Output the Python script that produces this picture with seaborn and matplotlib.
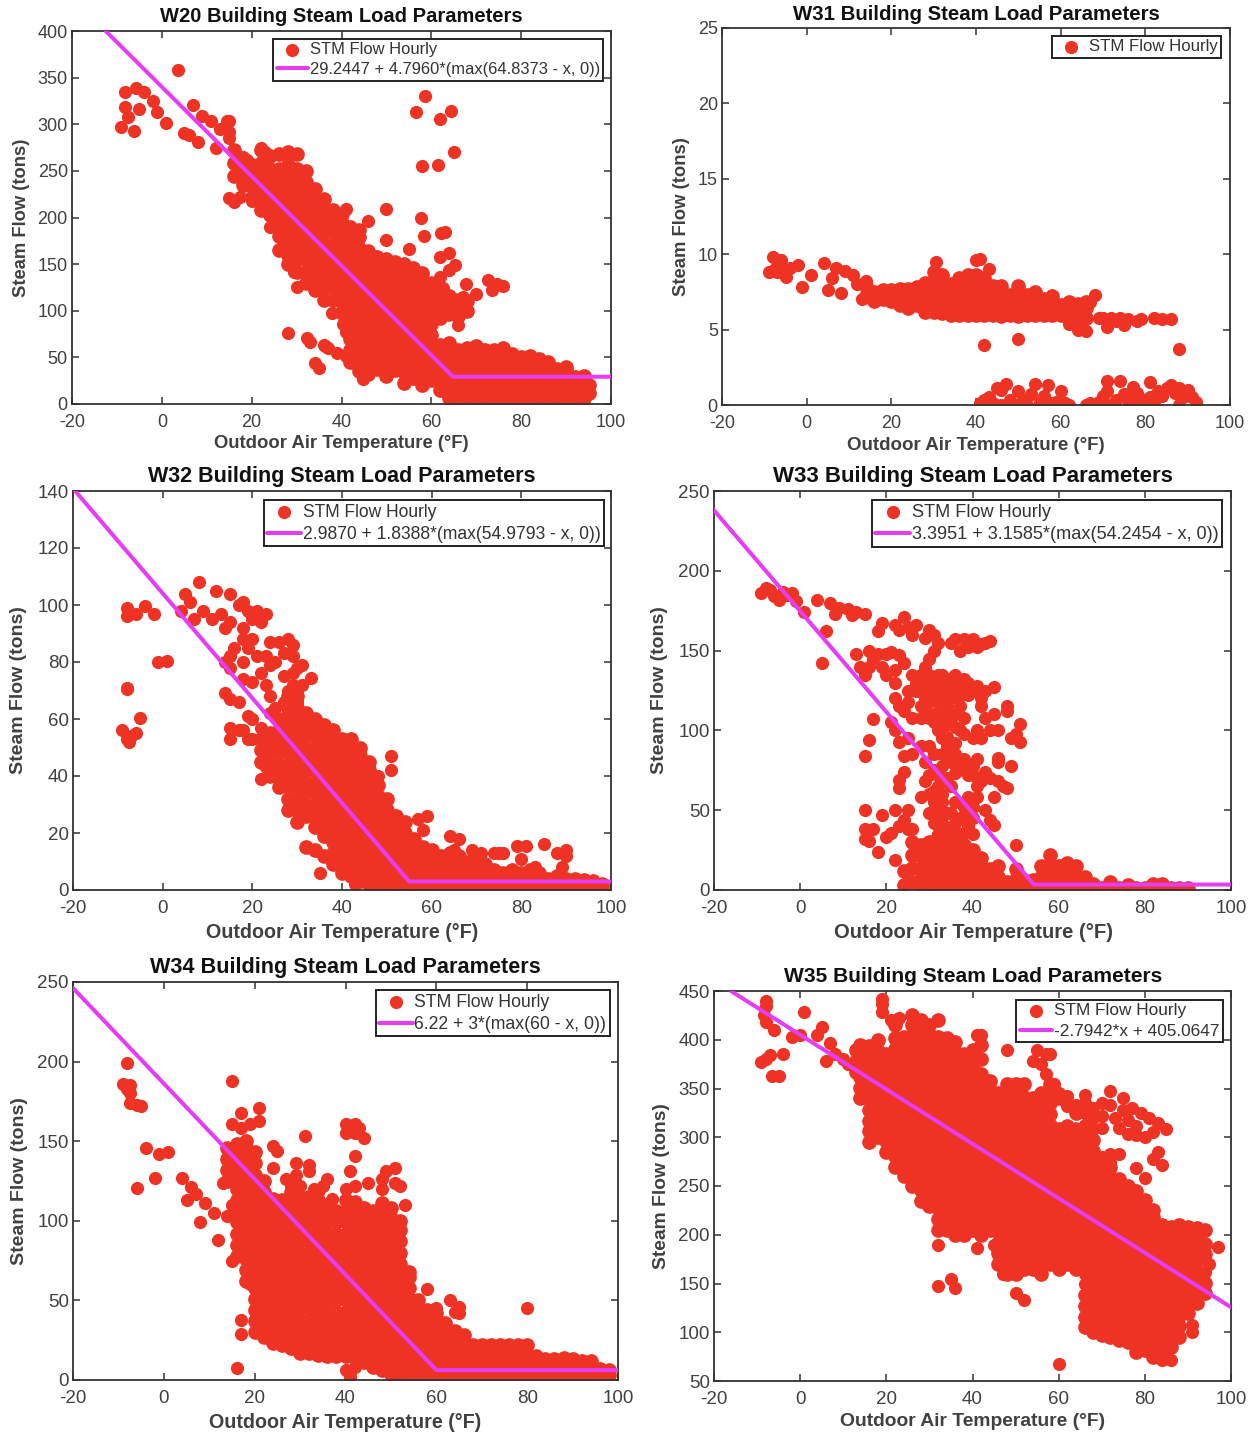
import pandas as pd
import matplotlib
matplotlib.use('Agg')
import matplotlib.pyplot as plt
import seaborn as sns

RED = '#EE3224'
MAGENTA = '#E63CF5'
GREY = '#404040'

# --- single readings: (temperature, flow) ---
w20_pts = [(-9,297),(-8.2,335),(-5.7,339),(-4,335),(-8.3,318),(-7.5,308),(-5,316),(-6.3,293),(-2,325),(-1,313),(1,301),(3.7,358),
           (5,291),(6,289),(7,321),(8,281),(9,309),(11,304),(12,274),(13,295),(14.4,304),(15,303),(15,292),(15,285),
           (58.5,330),(56.6,313),(61.9,306),(64.3,314),(65,270),(58,255),(61.4,256),(50,209),(46,196),(50,176),(55,166),
           (57.7,199),(58.3,180),(62.2,183),(63,184),(64,162),(62,158),(65.3,149),(64,144),(62,136),(62.7,124),(67.8,129),
           (72.7,133),(70,118),(74.7,129),(76,127),(73.4,122),(67,115),(68,101),(66,85),(64.7,97),(28,76),(32.3,71),(33,67),
           (34,44),(35,39),(36.3,62),(44.8,27),(37.8,98),(40,101),(40.3,86),(41,77),(30,126),(29.4,142),(24,190),(20,218),
           (15,221),(16,217),(17.3,222),(41,209),(37,60),(39,55),(41,52),(36,63),(18,265),(19,262),(22,274),(23,270)]
w31_pts = [(-9,8.8),(-8,9.8),(-7.5,9),(-7,8.8),(-6,9.6),(-6,9),(-5,8.5),(-4,9.1),(-2,9.3),(-1,7.8),(1,8.6),(4,9.4),(5,7.6),(6,8.4),(7,9.1),
           (8,7.4),(9,8.9),(11,8.6),(12,8),(14,8.2),(13,7),(30.5,9.5),(40,9.6),(41,9.7),(43,9),(42,4),(50,4.4),(88,3.7),(68,7.3),(67,6.8),
           (69,5.8),(70,5.8),(71,5.2),(72,5.8),(73,5.6),(74,5.8),(75,5.3),(76,5.7),(78,5.6),(79,5.7),(82,5.8),(84,5.7),(86,5.7),(64,5),(66,4.9),(62,5.4),
           (41,0.1),(42,0.3),(43,0.5),(44,0.1),(45,1.1),(46,0),(46,1),(47,1.4),(48,0.3),(49,0),(50,0.9),(51,0.3),(52,0),(53,0.7),(54,1.4),(55,0.2),
           (56,0.6),(57,1.3),(58,0.1),(59,0.2),(60,0.9),(61,0.1),(62,0),(66,0),(67,0.1),(69,0.2),(70,0.6),(71,1.6),(71,0.9),(72,0),(73,0.3),
           (74,1.6),(75,0.7),(76,0.3),(77,1.2),(78,0),(78,0.8),(79,0.4),(80,0),(81,1.5),(81,0.5),(82,0.2),(83,0.9),(84,0.6),(85,1.1),(86,1.3),
           (87,0.8),(88,0),(88,1.1),(89,0.5),(90,1),(91,0.5),(92,0.2)]
w32_pts = [(-9,56),(-8,53),(-7.5,52),(-7,54),(-6,55),(-5,60.5),(-8,71),(-8,70.5),(-1,80),(1,80.5),(-8,99),(-8,96),(-7.5,97),(-6,97),(-4,99.5),(-2,97),
           (4,98),(5,104),(6,101),(7,95),(8,108),(9,98),(11,95),(12,105),(13,97),(14,92),(15,104),(15,94),(17,100),(18,101),(19,98),(20,95),(21,98),(22,94),
           (23,97),(18,92),(20,88),(19,85),(18,88),(16,85),(15,82),(14,80),(15,78),(18,80),(18,74),(20,73),(22,76),(23,72),(21,82),(23,82),(25,80),(24,79),
           (26,87),(24,87),(28,88),(29,86),(27,83),(29,82),(30,78),(31,79),(33,74.5),(27,75),(29,76),(14,69),(15,67),(17,66),(19,61),(20,60),(15,57),(15,53),
           (17,56),(18,56),(19,53),(20,53),(22,57),(22,39),(23,43),(35,6),(43,2),(51,47),(51,42),(48,40),(57,25),(59,26),(58,21),(64,19),(66,18),(65,14),
           (69,14),(71,13),(70,11),(74,13),(75,13),(76,13),(79,15.5),(81,15.5),(80,11),(85,16),(88,13),(90,14),(90,12),(89,8),(83,8),(24,68),(25,64),(26,60),(24,62),
           (28,70),(29,72),(30,66),(31,72),(27,66),(28,62),(30,60)]
w33_pts = [(-9,186),(-8,189),(-7,188),(-6,184),(-5,182),(-4,187),(-3,185),(-2,186),(-1,181),(1,174),(4,182),(7,180),(8,173),(9,177),(11,176),(12,172),(13,174),(15,173),(6,162),(5,142),
           (18,162),(19,167),(22,166),(23,163),(24,171),(25,165),(26,160),(27,166),(29,158),(30,163),(31,160),(32,155),(31,150),(30,145),(29,140),(35,155),(36,157),(37,150),(38,157),(39,152),(40,157),(41,152),(42,154),(43,155),(44,156),
           (13,148),(14,140),(15,135),(16,150),(17,145),(18,148),(19,140),(20,135),(20,148),(21,149),(22,130),(23,147),(24,142),(22,138),(16,140),
           (25,125),(26,135),(27,130),(28,125),(29,120),(30,135),(31,130),(32,125),(33,135),(34,130),(35,125),(36,135),(37,130),(38,125),(39,130),(40,125),(41,128),(42,120),(43,125),(45,127),
           (22,120),(23,115),(24,112),(25,118),(26,108),(28,115),(30,118),(31,110),(32,118),(33,110),(34,115),(35,120),(36,110),(37,115),(38,108),(42,115),(43,108),(44,100),(45,110),(46,100),(41,100),(42,95),(40,95),(38,98),(36,92),(34,90),(32,100),(33,95),(31,105),
           (48,115),(48,112),(51,104),(50,98),(49,95),(51,93),(17,107),(21,105),(22,100),(23,93),(25,95),(26,85),(24,84),(16,94),(15,84),(28,90),(30,90),
           (29,80),(31,85),(33,78),(35,80),(36,73),(38,75),(40,72),(41,82),(42,68),(43,74),(44,70),(46,68),(47,65),(48,64),(46,83),(46,80),(49,78),
           (24,74),(23,69),(23,64),(29,68),(31,62),(32,65),(33,60),(28,58),(31,50),(33,55),(34,48),(36,55),(37,45),(38,52),(39,58),(40,52),(41,58),(45,58),(43,50),(44,44),(45,41),(39,40),(37,35),(35,38),(33,42),(32,35),
           (15,50),(19,47),(22,50),(25,50),(24,44),(23,40),(21,36),(20,33),(25,38),(26,38),(15,38),(17,38),(16,31),(15,32),(18,24),(22,19),(50,28),
           (27,125),(28,135),(29,130),(30,125),(31,120),(32,135),(33,125),(34,122),(35,132),(36,125),(37,122),(38,132),(39,122),(28,108),(29,112),(30,108),(32,108),(33,102),(34,104),(35,108),(36,102),(37,100),
           (34,96),(35,92),(33,85),(34,82),(36,85),(37,80),(38,82),(39,72),(40,78),(33,70),(32,72),(31,75),(34,70),(35,65),(32,58),(30,60),(31,55),(33,48),(32,45),(35,48),(36,42),(38,45),(39,48),(40,45),(38,36),(40,35),(36,33),(34,35),(31,42),(30,48),(30,72),(41,65)]
w34_pts = [(-8,199),(-9,186),(-8,183),(-7.5,185),(-7.5,180),(-7.5,174),(-6,173),(-5,172),(-4,146),(-1,142),(1,143),(-6,120.5),(-2,127),(4,127),(6,121),(7,117),(5,113),(9,111),(11,105),(8,99),(12,88),
           (15,188),(17,168),(21,171),(21,163),(15,161),(17,158),(19,161),(24,147),(25,144),(24,133),(29,136),(29,129),(32,135),(32,131),(31,153),(40,161),(42,161),(43,158),(40,155),(42,155),(44,152),(42,141),(41,131),
           (45,124),(42,122),(40,120),(37,114),(36,126),(48,126),(49,131),(51,133),(51,124),(52,122),(48,120),(53,110),(16,7.5),(40,6),(41,5),(42,8),(41,2),(58,57),(60,45),(63,50),(65,46),(64,43),(65,42),(80,45),
           (13,124),(17,38),(20,38),(17,29),(18,62),(19,60),(20,60),(15,75),(15,110),(14,103),(27,126),(28,122),(30,122),(33,120),(34,118),(35,122)]
w35_pts = [(-8,440),(-8,435),(-8.5,425),(-8,418),(-6,410),(-2,403),(0,405),(1,428),(4,405),(5,413),(7,397),(6,378),(8,385),(10,380),(11,375),(-9,377),(-8,380),(-7,384),(-4,385),(-6.5,363),(-5,363),
           (19,442),(19,437),(19,428),(21,420),(23,422),(32,190),(32,147),(35,155),(36,145),(41,186),(50,140),(52,133),(60,67),(48,390),(41,405),(42,405),(84,72),(85,76),(86,72),(91,107),(91,100),(97,187),(95,170),(94,162),(94,175),
           (72,347),(75,340),(66,343),(83,315),(85,308),(83,285),(82,278),(84,272),(78,268),(80,258),(82,305),(72,283),(74,283),(68,308),(70,310),(76,303),(78,302),(73,320),(75,328),(77,330),(79,325),(81,320),(70,335),(72,333),(68,330),(64,333),(62,342),(60,345),
           (55,390),(57,385),(56,375),(58,385),(54,378),(57,365),(59,355),(46,180),(47,160),(45,190),(62,332),(66,335),(66,313),(66,325),(70,322),(68,320),(72,275),(70,280),(74,310),(76,318),(78,312),(80,300),(66,150),(66,160),(68,155)]

# --- dense parts: temperature -> flows read from the blobs ---
w20_cols = {16:[245,258,272],18:[235,246,257],20:[222,234,245,256],22:[208,220,232,245,258,272],24:[203,215,227,240,252,266],
            26:[165,180,192,204,216,228,240,252,268],28:[150,160,172,184,196,208,220,232,244,256,270],30:[142,155,167,179,191,203,215,227,239,252,268],
            32:[130,142,154,166,178,190,202,214,226,238,250],34:[122,135,147,159,171,183,195,207,219,231],36:[112,124,136,148,160,172,184,196,208,220],
            38:[112,124,136,148,160,172,184,196,208],40:[98,110,122,134,146,158,170,182,194,204],42:[45,58,70,82,94,106,118,130,142,154,166,178,190],
            44:[35,47,59,71,83,95,107,119,131,143,155,167,179,187],46:[32,44,56,68,80,92,104,116,128,140,152,164],48:[38,50,62,74,86,98,110,122,134,146,158],
            50:[30,42,54,66,78,90,102,114,126,138,150,156],52:[36,48,60,72,84,96,108,120,132,144,152],54:[22,34,46,58,70,82,94,106,118,130,142,150],
            56:[28,40,52,64,76,88,100,112,124,136,146],58:[20,32,44,56,68,80,92,104,116,128,140],60:[26,38,50,62,74,86,98,110,122,130],
            62:[15,27,39,51,63,92,104,116,122],64:[6,18,30,42,54,65,96,108,116],66:[3,14,25,36,47,58,94,104,112],68:[7,18,29,40,51,60,100,110],
            70:[3,14,25,36,47,58,62],72:[7,18,29,40,51,58],74:[3,14,25,36,47,58],76:[7,18,29,40,50,60],78:[3,14,25,36,47,54],80:[7,18,29,40,50],
            82:[3,14,25,36,47,52],84:[7,18,29,40,48],86:[3,14,25,36,45],88:[7,18,29,38],90:[3,14,25,36,40],92:[7,18,29],94:[6,15,24,30],95:[12,20]}
w31_cols = {14:[7.2,7.9],16:[6.9,7.5],18:[7,7.6],20:[6.9,7.6],22:[6.6,7.3,7.7],24:[6.4,7,7.7],26:[6.6,7.2,7.8],28:[6.2,6.9,7.5,8.1],30:[6.2,6.8,7.5,8.2,8.8],
            32:[6.1,6.8,7.4,8.1,8.6],34:[6,6.7,7.4,8],36:[6,6.6,7.3,7.9,8.4],38:[6,6.7,7.4,8,8.6],40:[6,6.6,7.3,7.9,8.6],42:[6,6.7,7.4,8,8.4],44:[6,6.6,7.3,7.9],
            46:[5.9,6.6,7.3,7.9],48:[6,6.7,7.3],50:[5.9,6.6,7.3,7.9],52:[6,6.7,7.3],54:[6,6.6,7.2,7.5],56:[6,6.7,7],58:[6,6.6,7.2],60:[6,6.6],62:[5.9,6.5,6.8],64:[5.6,6.2,6.7],66:[5.8,6.4,6.8]}
w32_cols = {22:[45,49,53],24:[40,44,48,52,55],26:[36,40,44,48,52,56,60],28:[28,32,36,40,44,48,52,56,60,64,68],30:[24,28,32,36,40,44,48,52,56,60,64,68,71],
            32:[15,26,30,34,38,42,46,50,54,58,62],34:[14,22,26,30,34,38,42,46,50,54,58,60],36:[12,19,23,27,31,35,39,43,47,51,55,58],38:[9,13,17,21,25,29,33,37,41,45,49,53,56],
            40:[6,10,14,18,22,26,30,34,38,42,46,50,53],42:[5,9,13,17,21,25,29,33,37,41,45,49,53],44:[3,7,11,15,19,23,27,31,35,39,43,47,50],46:[2,6,10,14,18,22,26,30,34,38,42,45],
            48:[1,5,9,13,17,21,25,29,33,37],50:[1,4,8,12,16,20,24,28,32],52:[2,6,10,14,18,22,26],54:[1,4,8,12,16,20,24],56:[2,6,10,14,18],58:[1,4,8,12,15],60:[2,6,10,14],
            62:[1,4,8,12],64:[2,6,10,13],66:[1,4,8,12],68:[2,6,10],70:[1,4,8,11],72:[2,6,9],74:[1,4,7],76:[2,6],78:[1,4,7],80:[2,6],82:[1,4,7],84:[2,6],86:[1,4],88:[2,5],90:[1,4],92:[2,4],94:[1,3.5],96:[1,3],98:[1,2]}
w33_cols = {24:[3,12],26:[5,14,22,30],28:[1,7,14,21,28],30:[1,8,15,22,30],32:[1,7,14,21,28,33],34:[1,8,15,22,30],36:[1,7,14,21,28],38:[1,8,15,22,28],40:[1,7,14,21,25],
            42:[1,8,15,20],44:[1,7,13],46:[1,8,15],48:[1,5],50:[1,7,13],52:[1,6],54:[1,6],56:[1,8,15],58:[1,8,15,22],60:[1,8,15],62:[2,9,17],64:[1,8,15],66:[1,8],
            68:[1,4],70:[1],72:[1,5],74:[1],76:[1,3],78:[1],80:[1],82:[1,4],84:[1,4],86:[1],88:[1],90:[1]}
w34_cols = {14:[125,132,139,146],16:[78,85,92,99,106,113,120,127,134,141,148],18:[62,69,76,83,90,97,104,111,118,125,132,139,146,150],
            20:[30,37,44,51,58,66,73,80,87,94,101,108,115,122,129,136,143],22:[27,34,41,48,55,62,69,76,83,90,97,104,111,118,125],
            24:[23,30,37,44,51,58,65,72,79,86,93,100,107,114],26:[22,29,36,43,50,57,64,71,78,85,92,99,106,113],28:[20,27,34,41,48,55,62,69,76,83,90,97,104,111,118],
            30:[17,24,31,38,45,52,59,66,73,80,87,94,101,108,115],32:[17,24,31,38,45,52,59,66,73,80,87,94,101,108,115],34:[16,23,30,37,44,51,58,65,72,79,86,93,100,107,113],
            36:[15,22,29,36,43,50,57,64,71,78,85,92,99,106,110],38:[15,22,29,36,43,50,57,64,71,78,85,92,99,106],40:[15,22,29,36,43,50,57,64,71,78,85,92,99,106,113],
            42:[14,21,28,35,42,49,56,63,70,77,84,91,98,105,112],44:[11,18,25,32,39,46,53,60,67,74,81,88,95,102,108],46:[8,15,22,29,36,43,50,57,64,71,78,85,92,99,106],
            48:[6,13,20,27,34,41,48,55,62,69,76,83,90,97,104,111],50:[4,11,18,25,32,39,46,53,60,67,74,81,88,95,102,108],52:[3,10,17,24,31,38,45,52,59,66,73,80,87,94,100],
            54:[2,9,16,23,30,37,44,51,58,65,68],56:[2,9,16,23,30,37,44,50],58:[2,9,16,23,30,37,44],60:[3,10,17,24,31,38,42],62:[2,9,16,23,30,36],64:[3,10,17,24,31],
            66:[2,9,16,23,28],68:[3,10,17,22],70:[2,9,16,22],72:[1,8,15,22],74:[2,9,16,22],76:[1,8,15,22],78:[2,9,16,22],80:[1,8,15,22],82:[2,9,15],84:[1,8,13],86:[2,9,13],
            88:[1,8,14],90:[2,9,13],92:[1,8,12],94:[2,9,12],96:[2,7],98:[3,6]}
w35_cols = {13:[367,378,390],14:[340,351,362,373,384,395],16:[295,306,317,328,339,350,361,372,383,394],18:[300,311,322,333,344,355,366,377,388,400],20:[285,296,307,318,329,340,351,362,373,385],
            22:[270,281,292,303,314,325,336,347,358,369,380,391,402,415],24:[260,271,282,293,304,315,326,337,348,359,370,381,392,403],
            26:[250,261,272,283,294,305,316,327,338,349,360,371,382,393,404,415,425],28:[235,246,257,268,279,290,301,312,323,334,345,356,367,378,389,400,411,420],
            30:[230,241,252,263,274,285,296,307,318,329,340,351,362,373,384,395,406,415],32:[205,216,227,238,249,260,271,282,293,304,315,326,337,348,359,370,381,392,403,420],
            34:[205,216,227,238,249,260,271,282,293,304,315,326,337,348,359,370,381,392,402],36:[200,211,222,233,244,255,266,277,288,299,310,321,332,343,354,365,376,387,398],
            38:[200,211,222,233,244,255,266,277,288,299,310,321,332,343,354,365,376,385],40:[205,216,227,238,249,260,271,282,293,304,315,326,337,348,359,370,381,390],
            42:[200,211,222,233,244,255,266,277,288,299,310,321,332,343,354,365,380,395],44:[205,216,227,238,249,260,271,282,293,304,315,326,337,348,358],
            46:[170,181,192,203,214,225,236,247,258,269,280,291,302,313,324,335,345],48:[160,171,182,193,204,215,226,237,248,259,270,281,292,303,314,325,336,347,355],
            50:[160,171,182,193,204,215,226,237,248,259,270,281,292,303,314,325,336,347,355],52:[165,176,187,198,209,220,231,242,253,264,275,286,297,308,319,330,341,355],
            54:[165,176,187,198,209,220,231,242,253,264,275,286,297,308,319,330,340],56:[160,171,182,193,204,215,226,237,248,259,270,281,292,303,314,325,335,345],
            58:[170,181,192,203,214,225,236,247,258,269,280,291,302,313,324,335,346,355],60:[165,176,187,198,209,220,231,242,253,264,275,286,297,308,340],
            62:[170,181,192,203,214,225,236,247,258,269,280,291,302,312,335],64:[165,176,187,198,209,220,231,242,253,264,275,286,297,308,325],
            66:[105,116,127,138,170,181,192,203,214,225,236,247,258,269,280,291,302],68:[100,111,122,133,144,165,176,187,198,209,220,231,242,253,264,275,286,297],
            70:[97,108,119,130,141,152,163,174,185,196,207,218,229,240,251,262,268],72:[95,106,117,128,139,150,161,172,183,194,205,216,227,238,249,260,270],
            74:[92,103,114,125,136,147,158,169,180,191,202,213,224,235,246,257],76:[90,101,112,123,134,145,156,167,178,189,200,211,222,233,244,250],
            78:[80,91,102,113,124,135,146,157,168,179,190,201,212,223,234,245],80:[82,93,104,115,126,137,148,159,170,181,192,203,214,225,236],
            82:[75,86,97,108,119,130,141,152,163,174,185,196,207,218,225],84:[80,91,102,113,124,135,146,157,168,179,190,201,210],86:[85,96,107,118,129,140,151,162,173,184,195,208],
            88:[95,106,117,128,139,150,161,172,183,194,205,210],90:[120,131,142,153,164,175,186,197,208],92:[130,141,152,163,174,185,196,207],94:[140,151,180,191,205]}

# fitted lines (ends and break point)
w20_fit_x, w20_fit_y = [-12.5, 64.84, 100], [400, 29.24, 29.24]
w32_fit_x, w32_fit_y = [-20, 54.98, 100], [140.9, 2.99, 2.99]
w33_fit_x, w33_fit_y = [-20, 54.25, 100], [237.9, 3.4, 3.4]
w34_fit_x, w34_fit_y = [-20, 60, 100], [246.2, 6.22, 6.22]
w35_fit_x, w35_fit_y = [-16, 100], [449.8, 125.6]

names = ['W20', 'W31', 'W32', 'W33', 'W34', 'W35']
fit_labels = ['29.2447 + 4.7960*(max(64.8373 - x, 0))', None, '2.9870 + 1.8388*(max(54.9793 - x, 0))',
              '3.3951 + 3.1585*(max(54.2454 - x, 0))', '6.22 + 3*(max(60 - x, 0))', '-2.7942*x + 405.0647']
y_limits = [(0, 400), (0, 25), (0, 140), (0, 250), (0, 250), (50, 450)]
y_ticks = [range(0, 401, 50), range(0, 26, 5), range(0, 141, 20), range(0, 251, 50), range(0, 251, 50), range(50, 451, 50)]
x_ticks = [-20, 0, 20, 40, 60, 80, 100]

sns.set_theme(style='white')
plt.rcParams['font.family'] = ['Liberation Sans', 'DejaVu Sans']
plt.rcParams['axes.edgecolor'] = '#333333'
plt.rcParams['axes.unicode_minus'] = False

W, H = 1255, 1435
fig = plt.figure(figsize=(W / 100, H / 100), dpi=100)

# pixel boxes: left, right, top, bottom
boxes = [(72, 611, 31, 404), (722, 1230, 28, 405), (73, 611, 491, 890), (714, 1231, 491, 890), (73, 618, 982, 1380), (714, 1231, 991, 1381)]
legend_corners = [(603, 39), (1221, 36), (604, 500), (1222, 500), (610, 990), (1223, 1000)]
title_pos = [(341, 17), (976, 14), (342, 476), (973, 476), (345, 967), (973, 977)]
xlabel_pos = [(341, 443), (976, 446), (342, 933), (973, 933), (345, 1422), (973, 1422)]
ylabel_x = [22, 682, 19, 659, 20, 661]
title_size = [14.5, 14.7, 15.5, 16, 15.55, 15.15]
xlabel_size = [13.3, 13.5, 14.2, 14.6, 14.2, 13.9]
ylabel_size = [13.2, 13.3, 14, 14, 14, 13.9]
tick_size = [13, 13, 13.5, 13.5, 13.5, 13.5]
legend_size = [11.85, 12.05, 12.65, 13.1, 12.7, 12.4]

all_pts = [w20_pts, w31_pts, w32_pts, w33_pts, w34_pts, w35_pts]
all_cols = [w20_cols, w31_cols, w32_cols, w33_cols, w34_cols, w35_cols]
all_fits = [(w20_fit_x, w20_fit_y), None, (w32_fit_x, w32_fit_y), (w33_fit_x, w33_fit_y), (w34_fit_x, w34_fit_y), (w35_fit_x, w35_fit_y)]

for i, name in enumerate(names):
    left, right, top, bottom = boxes[i]
    ax = fig.add_axes([left / W, 1 - bottom / H, (right - left) / W, (bottom - top) / H])

    rows = []
    for t, flows in all_cols[i].items():
        rows += [(t, f) for f in flows]
    dense = pd.DataFrame(rows, columns=['temp', 'flow'])
    single = pd.DataFrame(all_pts[i], columns=['temp', 'flow'])

    # the dense blobs get a slightly bigger marker so they close up
    sns.scatterplot(data=dense, x='temp', y='flow', ax=ax, color=RED, s=112, linewidth=0, zorder=2)
    sns.scatterplot(data=single, x='temp', y='flow', ax=ax, color=RED, s=90, linewidth=0, label='STM Flow Hourly', zorder=2)
    if all_fits[i] is not None:
        sns.lineplot(x=all_fits[i][0], y=all_fits[i][1], ax=ax, color=MAGENTA, linewidth=2.9, label=fit_labels[i], zorder=3)

    ax.set_xlim(-20, 100)
    ax.set_ylim(*y_limits[i])
    ax.set_xticks(x_ticks)
    ax.set_yticks(list(y_ticks[i]))
    ax.tick_params(direction='in', length=5, width=1.1, top=True, right=True, bottom=True, left=True,
                   labelsize=tick_size[i], labelcolor=GREY, color='#333333')
    ax.tick_params(axis='x', pad=7)
    ax.tick_params(axis='y', pad=3)
    for s in ax.spines.values():
        s.set_linewidth(1.3)
        s.set_visible(True)

    fig.text(title_pos[i][0] / W, 1 - title_pos[i][1] / H, name + ' Building Steam Load Parameters',
             ha='center', va='center', fontsize=title_size[i], fontweight='bold', color='#111111')
    ax.set_xlabel('')
    ax.set_ylabel('')
    fig.text(xlabel_pos[i][0] / W, 1 - xlabel_pos[i][1] / H, 'Outdoor Air Temperature (°F)',
             ha='center', va='center', fontsize=xlabel_size[i], fontweight='bold', color=GREY)
    fig.text(ylabel_x[i] / W, 1 - (top + bottom) / 2 / H, 'Steam Flow (tons)', rotation=90,
             ha='center', va='center', fontsize=ylabel_size[i], fontweight='bold', color=GREY)

    cx, cy = legend_corners[i]
    leg = ax.legend(loc='upper right', bbox_to_anchor=(cx / W, 1 - cy / H), bbox_transform=fig.transFigure,
                    fontsize=legend_size[i], frameon=True, fancybox=False, framealpha=1, edgecolor='#222222', borderaxespad=0,
                    borderpad=0.2, labelspacing=0.3, handlelength=1.9, handletextpad=0.1, labelcolor='#333333')
    leg.get_frame().set_linewidth(1.4)
    leg.set_zorder(5)

fig.savefig('out.png', dpi=100)
